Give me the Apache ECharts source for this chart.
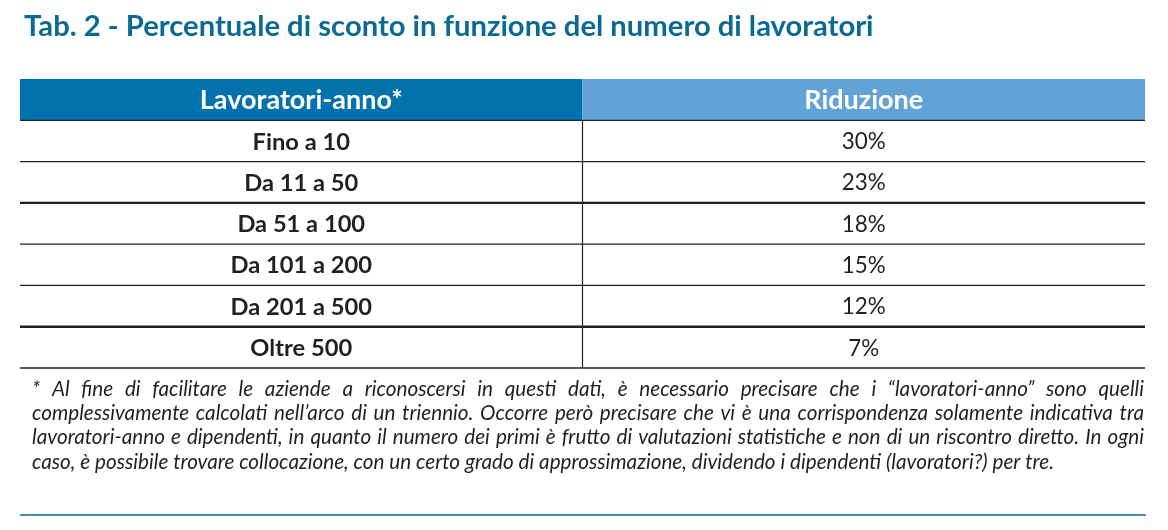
<!DOCTYPE html>
<html><head><meta charset="utf-8">
<script src="https://cdn.jsdelivr.net/npm/echarts@6/dist/echarts.min.js"></script>
<style>html,body{margin:0;padding:0;background:#fff}#c{width:1168px;height:530px}</style>
</head><body><div id="c"></div>
<script>
const titleText = 'Tab. 2 - Percentuale di sconto in funzione del numero di lavoratori';
const headers = ['Lavoratori-anno*', 'Riduzione'];
const categories = ['Fino a 10', 'Da 11 a 50', 'Da 51 a 100', 'Da 101 a 200', 'Da 201 a 500', 'Oltre 500'];
const reductions = [30, 23, 18, 15, 12, 7];
const footnoteLines = [
  '* Al fine di facilitare le aziende a riconoscersi in questi dati, è necessario precisare che i \u201clavoratori-anno\u201d sono quelli',
  'complessivamente calcolati nell\u2019arco di un triennio. Occorre però precisare che vi è una corrispondenza solamente indicativa tra',
  'lavoratori-anno e dipendenti, in quanto il numero dei primi è frutto di valutazioni statistiche e non di un riscontro diretto. In ogni',
  'caso, è possibile trovare collocazione, con un certo grado di approssimazione, dividendo i dipendenti (lavoratori?) per tre.'
];

const FONT = 'Lato';
const mctx = document.createElement('canvas').getContext('2d');
function measure(text, weight, style, size) {
  mctx.font = style + ' ' + weight + ' ' + size + 'px ' + FONT;
  return mctx.measureText(text).width;
}
function fit(text, weight, style, target) {
  return 100 * target / measure(text, weight, style, 100);
}
const titleSize = fit(titleText, 'bold', 'normal', 850);
const headSize = fit(headers[0], 'bold', 'normal', 203);
const bodySize = fit('Da 11 a 50', 'bold', 'normal', 114);
const valSize = fit('30%', 'normal', 'normal', 44);
const noteSize = fit(footnoteLines[3], 'normal', 'italic', 1023);

const TEAL = '#0b6a93';
const INK = '#231f20';

// table cells: [col, row]
const cellData = [];
const cellText = [];
headers.forEach((h, i) => { cellData.push([i, 0]); cellText.push(h); });
categories.forEach((c, i) => {
  cellData.push([0, i + 1]); cellText.push(c);
  cellData.push([1, i + 1]); cellText.push(reductions[i] + '%');
});

function renderCell(params, api) {
  const col = api.value(0), row = api.value(1);
  const p0 = api.coord([col, row]), p1 = api.coord([col + 1, row + 1]);
  const x = p0[0], y = p0[1], w = p1[0] - p0[0], h = p1[1] - p0[1];
  const children = [];
  const text = cellText[params.dataIndex];
  if (row === 0) {
    children.push({ type: 'rect', shape: { x: x, y: y, width: w, height: h },
      style: { fill: col === 0 ? '#0272ad' : '#62a3d7' } });
    children.push({ type: 'text', style: { x: x + w / 2, y: y + h / 2 + 1, text: text, fill: '#fff',
      font: 'bold ' + headSize + 'px ' + FONT, align: 'center', verticalAlign: 'middle' } });
  } else {
    const bold = col === 0;
    children.push({ type: 'text', style: { x: x + w / 2, y: y + h / 2 + 1, text: text, fill: INK,
      font: (bold ? 'bold ' + bodySize : 'normal ' + valSize) + 'px ' + FONT, align: 'center', verticalAlign: 'middle' } });
    const thick = (row === 2 || row === 5);
    children.push({ type: 'line', shape: { x1: x, y1: y + h, x2: x + w, y2: y + h },
      style: { stroke: INK, lineWidth: thick ? 2.4 : 1.3 } });
    if (row === 1) {
      children.push({ type: 'line', shape: { x1: x, y1: y, x2: x + w, y2: y },
        style: { stroke: INK, lineWidth: 1.3 } });
    }
    if (col === 1) {
      children.push({ type: 'line', shape: { x1: x, y1: y, x2: x, y2: y + h },
        style: { stroke: INK, lineWidth: 1.2 } });
    }
  }
  return { type: 'group', children: children };
}

// footnote words laid out justified
const noteLeft = 32, noteRight = 1144;
const noteY = [389, 413, 437, 462];
const noteFont = 'italic normal ' + noteSize + 'px ' + FONT;
const graphics = [];
footnoteLines.forEach((line, li) => {
  const words = line.split(' ');
  const justify = li < 3;
  const spaceW = measure(' ', 'normal', 'italic', noteSize);
  const wordsW = words.map(wd => measure(wd, 'normal', 'italic', noteSize));
  const total = wordsW.reduce((a, b) => a + b, 0);
  const gap = justify ? (noteRight - noteLeft - total) / (words.length - 1) : spaceW;
  let cx = noteLeft;
  words.forEach((wd, wi) => {
    graphics.push({ type: 'text', left: null, x: cx, y: noteY[li],
      style: { text: wd, fill: INK, font: noteFont, verticalAlign: 'middle', align: 'left' } });
    cx += wordsW[wi] + gap;
  });
});
graphics.push({ type: 'line', shape: { x1: 20, y1: 515, x2: 1146, y2: 515 },
  style: { stroke: TEAL, lineWidth: 1.5 } });

const chart = echarts.init(document.getElementById('c'), null, { renderer: 'canvas' });
chart.setOption({
  animation: false,
  backgroundColor: '#fff',
  title: {
    text: titleText, left: 19, top: 7,
    textStyle: { color: TEAL, fontFamily: FONT, fontWeight: 'bold', fontSize: titleSize }
  },
  grid: { left: 20, right: 23, top: 79, bottom: 162 },
  xAxis: { type: 'value', min: 0, max: 2, show: false },
  yAxis: { type: 'value', min: 0, max: 7, inverse: true, show: false },
  series: [{
    type: 'custom',
    renderItem: renderCell,
    data: cellData,
    encode: { x: 0, y: 1 },
    clip: false,
    silent: true
  }],
  graphic: graphics.map(g => { delete g.left; return g; })
});
</script>
</body></html>
